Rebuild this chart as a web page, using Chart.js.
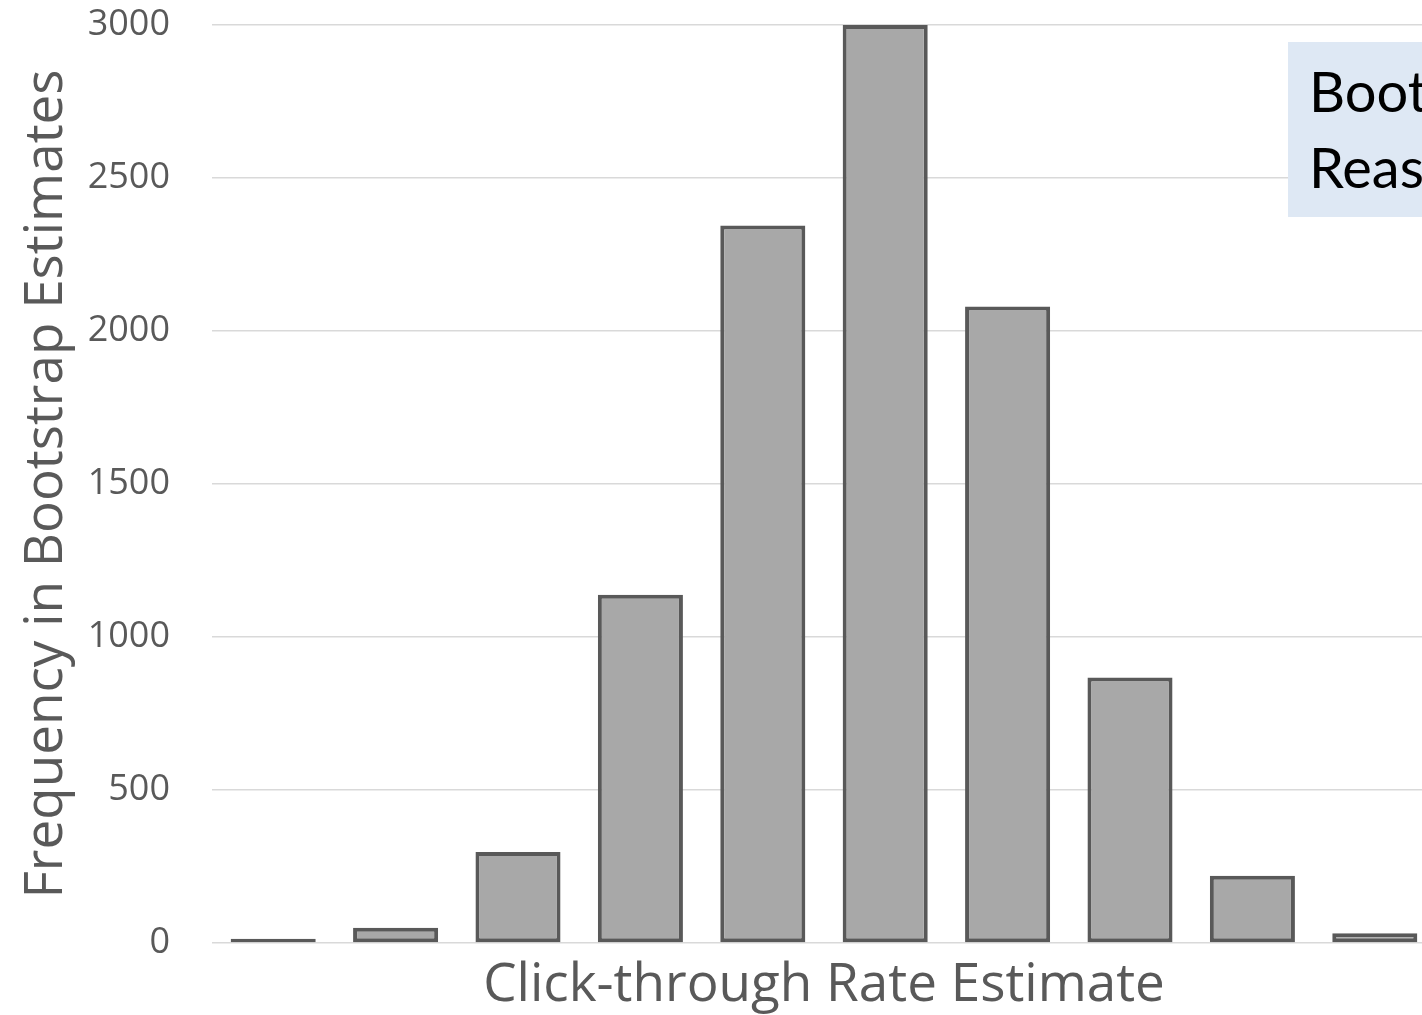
<!DOCTYPE html>
<html>
<head>
<meta charset="utf-8">
<script src="https://cdn.jsdelivr.net/npm/chart.js@4.4.0/dist/chart.umd.min.js"></script>
<style>
  html, body { margin: 0; padding: 0; background: #fff; overflow: hidden; width: 1422px; height: 1015px; }
  #wrap { position: absolute; left: 0; top: 0; width: 1440px; height: 1015px; }
  #note {
    position: absolute; left: 1288px; top: 42px; width: 400px; height: 175px;
    background: #dee8f4; box-sizing: border-box; padding: 11px 0 0 21px;
    font-family: Lato, "Open Sans", sans-serif; font-size: 56px; line-height: 76px; color: #000;
    white-space: nowrap;
  }
</style>
</head>
<body>
<div id="wrap">
  <canvas id="myChart" width="1440" height="1015"></canvas>
</div>
<div id="note">Bootstrap<br>Reasonable</div>
<script>
// histogram bins (no visible labels on the x axis)
const bins = ['b1', 'b2', 'b3', 'b4', 'b5', 'b6', 'b7', 'b8', 'b9', 'b10'];
const counts = [14, 50, 297, 1138, 2345, 3000, 2080, 868, 220, 32];
const yTicks = [0, 500, 1000, 1500, 2000, 2500, 3000];

const tickFont = { family: 'Open Sans', size: 36 };
const titleFont = { family: 'Open Sans', size: 53 };

const config = {
  type: 'bar',
  data: {
    labels: bins,
    datasets: [{
      data: counts,
      backgroundColor: '#a8a8a8',
      borderColor: '#595959',
      borderWidth: 4,
      borderSkipped: false,
      barPercentage: 0.695,
      categoryPercentage: 1
    }]
  },
  options: {
    responsive: false,
    animation: false,
    layout: { padding: { top: 25, right: 4, bottom: 0, left: 0 } },
    plugins: { legend: { display: false }, tooltip: { enabled: false } },
    scales: {
      x: {
        grid: { display: false, drawTicks: false },
        border: { display: false },
        ticks: { display: false },
        title: {
          display: true,
          text: 'Click-through Rate Estimate',
          color: '#595959',
          font: titleFont,
          padding: { top: 0, bottom: -3 }
        },
        afterFit: function (scale) { scale.height = 72; }
      },
      y: {
        min: 0,
        max: 3000,
        afterBuildTicks: function (scale) {
          scale.ticks = yTicks.map(v => ({ value: v }));
        },
        // invisible tick marks give the gap between labels and gridlines
        grid: { color: '#d9d9d9', lineWidth: 1.5, drawTicks: true, tickLength: 42, tickColor: 'rgba(0,0,0,0)' },
        border: { display: false },
        ticks: {
          color: '#595959',
          font: tickFont,
          padding: 0,
          callback: function (value) { return String(value); }
        },
        title: {
          display: true,
          text: 'Frequency in Bootstrap Estimates',
          color: '#595959',
          font: titleFont,
          padding: { top: 15, bottom: 0 }
        },
        afterFit: function (scale) { scale.width = 212; }
      }
    }
  }
};

const myChart = new Chart(document.getElementById('myChart'), config);
</script>
</body>
</html>
